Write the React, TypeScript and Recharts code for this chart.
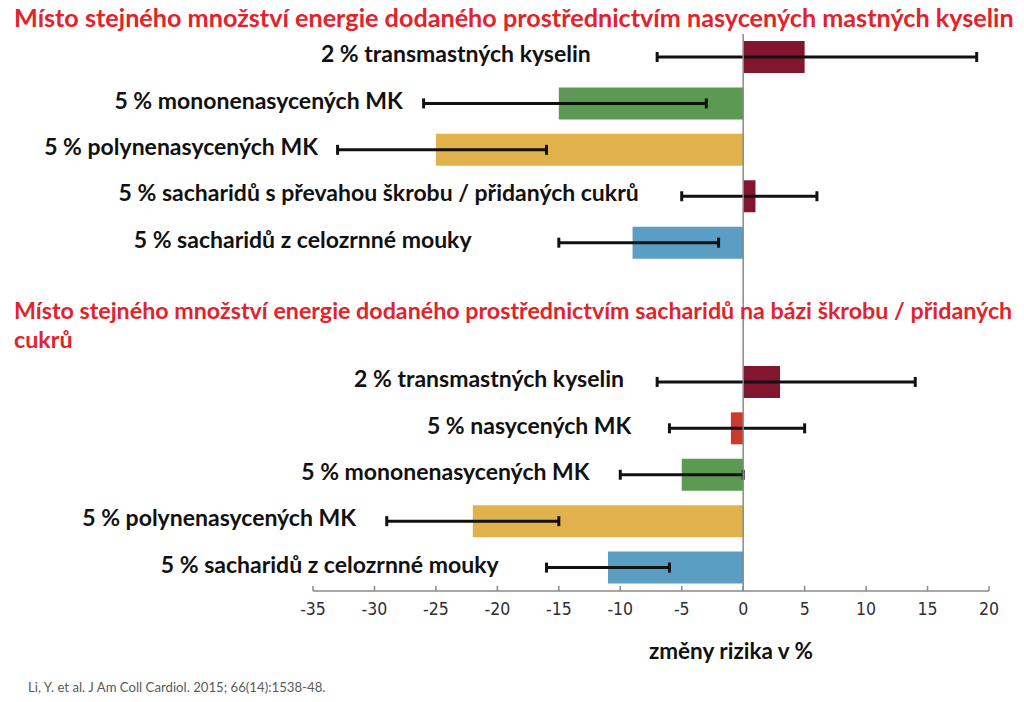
import { BarChart, Bar, XAxis, YAxis, Cell, ErrorBar, ReferenceLine, ReferenceDot } from 'recharts';

// změna rizika v % (bar) a interval spolehlivosti (chybová úsečka)
const GROUP1_LABELS = [
  '2 % transmastných kyselin',
  '5 % mononenasycených MK',
  '5 % polynenasycených MK',
  '5 % sacharidů s převahou škrobu / přidaných cukrů',
  '5 % sacharidů z celozrnné mouky',
];
const GROUP1_CHANGE = [5, -15, -25, 1, -9];
const GROUP1_LOW = [-7, -26, -33, -5, -15];
const GROUP1_HIGH = [19, -3, -16, 6, -2];

const GROUP2_LABELS = [
  '2 % transmastných kyselin',
  '5 % nasycených MK',
  '5 % mononenasycených MK',
  '5 % polynenasycených MK',
  '5 % sacharidů z celozrnné mouky',
];
const GROUP2_CHANGE = [3, -1, -5, -22, -11];
const GROUP2_LOW = [-7, -6, -10, -29, -16];
const GROUP2_HIGH = [14, 5, 0, -15, -6];

const X_TICKS = [-35, -30, -25, -20, -15, -10, -5, 0, 5, 10, 15, 20];

const TITLE1 = 'Místo stejného množství energie dodaného prostřednictvím nasycených mastných kyselin';
const TITLE2_LINE1 = 'Místo stejného množství energie dodaného prostřednictvím sacharidů na bázi škrobu / přidaných';
const TITLE2_LINE2 = 'cukrů';
const AXIS_TITLE = 'změny rizika v %';
const SOURCE = 'Li, Y. et al. J Am Coll Cardiol. 2015; 66(14):1538-48.';

// layout: where each row label ends, in axis units
const LABEL_END1 = [-12.4, -27.7, -34.6, -8.5, -22.1];
const LABEL_END2 = [-9.7, -9.1, -12.5, -31.5, -19.9];

const DARK_RED = '#83162f';
const GREEN = '#5c9a53';
const YELLOW = '#e1b24b';
const BLUE = '#5b9ec4';
const RED = '#cc3a2d';
const COLORS1 = [DARK_RED, GREEN, YELLOW, DARK_RED, BLUE];
const COLORS2 = [DARK_RED, RED, GREEN, YELLOW, BLUE];

const LABEL_FONT = "Lato, 'Open Sans', sans-serif";

type Row = {
  key: string;
  label: string;
  change: number | null;
  err: [number, number] | null;
  color: string;
  labelEnd: number | null;
};

function buildGroup(
  prefix: string,
  labels: string[],
  change: number[],
  low: number[],
  high: number[],
  colors: string[],
  ends: number[],
): Row[] {
  return labels.map((label, i) => ({
    key: `${prefix}-${i}`,
    label,
    change: change[i],
    err: [change[i] - low[i], high[i] - change[i]],
    color: colors[i],
    labelEnd: ends[i],
  }));
}

const gapRow = (key: string): Row => ({ key, label: '', change: null, err: null, color: 'none', labelEnd: null });

const rows: Row[] = [
  ...buildGroup('a', GROUP1_LABELS, GROUP1_CHANGE, GROUP1_LOW, GROUP1_HIGH, COLORS1, LABEL_END1),
  gapRow('gap-1'),
  gapRow('gap-2'),
  ...buildGroup('b', GROUP2_LABELS, GROUP2_CHANGE, GROUP2_LOW, GROUP2_HIGH, COLORS2, LABEL_END2),
];

function AxisTick({ x, y, payload }: { x?: number; y?: number; payload?: { value: number } }) {
  const px = Number(x);
  const py = Number(y);
  return (
    <g>
      <line x1={px} x2={px} y1={py - 5} y2={py} stroke="#8a8a8a" strokeWidth={1.5} />
      <text
        x={px}
        y={py + 24}
        textAnchor="middle"
        fill="#2e2e2e"
        fontSize={17.5}
        fontFamily="'Liberation Sans Narrow', 'DejaVu Sans Condensed', sans-serif"
      >
        {payload?.value}
      </text>
    </g>
  );
}

function RowLabel({ viewBox, text }: { viewBox?: { x: number; y: number }; text: string }) {
  if (!viewBox) return null;
  return (
    <text
      x={viewBox.x}
      y={viewBox.y - 4}
      textAnchor="end"
      dominantBaseline="central"
      fill="#111"
      fontSize={23}
      fontWeight={700}
      fontFamily={LABEL_FONT}
    >
      {text}
    </text>
  );
}

const titleStyle: React.CSSProperties = {
  position: 'absolute',
  left: 14,
  color: '#e3222b',
  fontFamily: LABEL_FONT,
  fontWeight: 700,
  lineHeight: '29px',
  whiteSpace: 'nowrap',
};

export default function App() {
  return (
    <div style={{ position: 'absolute', left: 0, top: 0, width: 1024, height: 702, background: '#fff', overflow: 'hidden' }}>
      <BarChart
        width={1024}
        height={702}
        data={rows}
        layout="vertical"
        margin={{ top: 34, right: 35, bottom: 81, left: 313 }}
        barSize={32}
      >
        <XAxis
          type="number"
          domain={[-35, 20]}
          ticks={X_TICKS}
          interval={0}
          allowDataOverflow
          height={30}
          axisLine={{ stroke: '#8a8a8a', strokeWidth: 1.5 }}
          tickLine={false}
          tickSize={0}
          tickMargin={0}
          tick={<AxisTick />}
        />
        <YAxis type="category" dataKey="key" hide />
        <Bar dataKey="change" isAnimationActive={false}>
          {rows.map((r) => (
            <Cell key={r.key} fill={r.color} />
          ))}
          <ErrorBar dataKey="err" direction="x" width={5} stroke="#111" strokeWidth={3} />
        </Bar>
        <ReferenceLine x={0} stroke="#8a8a8a" strokeWidth={1.5} />
        {rows
          .filter((r) => r.labelEnd !== null)
          .map((r) => (
            <ReferenceDot
              key={`lbl-${r.key}`}
              x={r.labelEnd as number}
              y={r.key}
              r={0}
              fill="none"
              stroke="none"
              ifOverflow="visible"
              label={<RowLabel text={r.label} />}
            />
          ))}
      </BarChart>

      <div style={{ ...titleStyle, top: 3, fontSize: 25.2 }}>{TITLE1}</div>
      <div style={{ ...titleStyle, top: 296, fontSize: 23.25 }}>
        {TITLE2_LINE1}
        <br />
        {TITLE2_LINE2}
      </div>
      <div
        style={{
          position: 'absolute',
          left: 631,
          top: 637,
          width: 200,
          textAlign: 'center',
          fontFamily: LABEL_FONT,
          fontWeight: 700,
          fontSize: 22.5,
          color: '#111',
        }}
      >
        {AXIS_TITLE}
      </div>
      <div
        style={{
          position: 'absolute',
          left: 28,
          top: 679,
          fontFamily: LABEL_FONT,
          fontSize: 13.2,
          color: '#5a5a5a',
          whiteSpace: 'nowrap',
        }}
      >
        {SOURCE}
      </div>
    </div>
  );
}
